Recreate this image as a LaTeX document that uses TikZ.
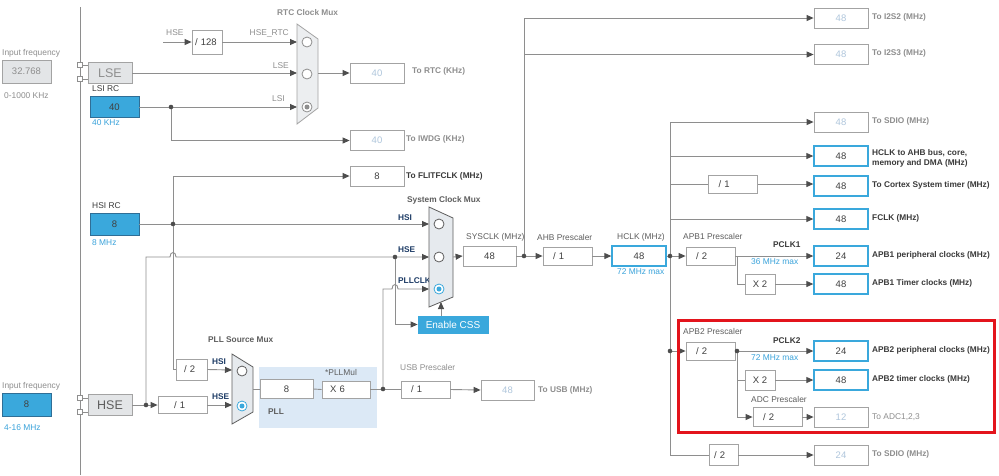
\documentclass[tikz,border=0pt]{standalone}
\usepackage{fontspec}
\setmainfont{Liberation Sans}
\usetikzlibrary{arrows.meta}

\definecolor{wiregray}{HTML}{8E8E8E}
\definecolor{tipgray}{HTML}{4D4D4D}
\definecolor{boxgray}{HTML}{A3A3A3}
\definecolor{oscgray}{HTML}{E3E5E7}
\definecolor{cubeblue}{HTML}{3AA8DC}
\definecolor{srcedge}{HTML}{2F6E96}
\definecolor{hinttext}{HTML}{3AA3DB}
\definecolor{lbltext}{HTML}{5E5E5E}
\definecolor{dimlbl}{HTML}{8E8E8E}
\definecolor{darktext}{HTML}{3A3A3A}
\definecolor{valtext}{HTML}{404040}
\definecolor{dimval}{HTML}{AFC6DC}
\definecolor{navy}{HTML}{1E3C66}
\definecolor{muxfill}{HTML}{E6EAEE}
\definecolor{muxdim}{HTML}{ECEEF0}
\definecolor{pllblue}{HTML}{DCE9F6}
\definecolor{alertred}{HTML}{E3141C}

\tikzset{
  wire/.style={draw=wiregray, line width=0.9pt},
  feed/.style={wire, -{Triangle[length=7pt,width=6pt,color=tipgray]}},
  valbox/.style={draw=boxgray, fill=white, line width=0.8pt, inner sep=0pt,
    minimum width=54pt, minimum height=20pt, text=valtext,
    font=\fontsize{9.5}{10}\selectfont},
  livebox/.style={valbox, draw=cubeblue, line width=1.3pt},
  dimbox/.style={valbox, text=dimval},
  divbox/.style={valbox, minimum width=10pt, minimum height=18pt,
    text width=#1, align=left, inner xsep=10pt},
  divbox/.default=29pt,
  srcbox/.style={valbox, fill=cubeblue, draw=srcedge, minimum width=49pt, minimum height=22pt},
  oscbox/.style={valbox, fill=oscgray, minimum width=44pt, minimum height=21pt,
    font=\fontsize{12.5}{12.5}\selectfont},
  pin/.style={draw=wiregray, fill=white, line width=0.8pt, minimum size=5pt, inner sep=0pt},
  lbl/.style={anchor=west, inner sep=0pt, text=lbltext, font=\fontsize{8.4}{9}\selectfont},
  blbl/.style={lbl, font=\fontsize{8.3}{10.5}\selectfont\bfseries},
  hint/.style={lbl, text=hinttext},
  muxin/.style={anchor=south west, inner sep=0pt, text=navy, font=\fontsize{8.3}{9}\selectfont\bfseries},
  rtcin/.style={anchor=south east, inner sep=0pt, text=dimlbl, font=\fontsize{8.4}{9}\selectfont},
  ring/.style={draw=#1, fill=white, line width=0.8pt},
}

\begin{document}
\begin{tikzpicture}[x=1pt,y=-1pt]
    \useasboundingbox (0,0) rectangle (999,475);
    \fill[white] (0,0) rectangle (999,475);
    % Define points
    \coordinate (hsertc) at (163,42);
    \coordinate (rtca) at (297,42);
    \coordinate (rtcb) at (297,73);
    \coordinate (rtcc) at (297,107);
    \coordinate (rtcmux) at (318,73);
    \coordinate (lsitap) at (171,107);
    \coordinate (hsitap) at (173,224);
    \coordinate (hsetap) at (146,405);
    \coordinate (csstap) at (395,257);
    \coordinate (plltap) at (383,389);
    \coordinate (smxa) at (429,224);
    \coordinate (smxb) at (429,257);
    \coordinate (smxc) at (429,289);
    \coordinate (smxout) at (453,257);
    \coordinate (smxsel) at (441,302);
    \coordinate (pmxa) at (232,370);
    \coordinate (pmxb) at (232,405);
    \coordinate (pmxout) at (253,389);
    \coordinate (systap) at (524,256);
    \coordinate (hcktap) at (670,256);
    \coordinate (bustop) at (670,122);
    \coordinate (busbot) at (670,455);
    \coordinate (apb1tap) at (737,256);
    \coordinate (apb2tap) at (737,351);

    % Draw background
    \fill[pllblue] (259,367) rectangle (377,428);
    \draw[wire] (80,7) -- (80,475);

    % Sources
    \node[lbl, text=dimlbl] (lsetitle) at (2,53) {Input frequency};
    \node[valbox, fill=oscgray, text=dimlbl, minimum width=49pt, minimum height=23pt] (lsefreq) at (26.5,71.5) {32.768};
    \node[lbl, text=dimlbl] (lserange) at (4,96) {0-1000 KHz};
    \node[pin] (lsepa) at (80,65) {};
    \node[pin] (lsepb) at (80,79) {};
    \node[oscbox, text=dimlbl] (lse) at (110,73) {LSE};
    \draw[wire] (lsepa) -- (lsepa -| lse.west);
    \draw[wire] (lsepb) -- (lsepb -| lse.west);
    \node[lbl, text=darktext] (lsiname) at (92,89) {LSI RC};
    \node[srcbox, minimum height=21pt] (lsi) at (114.5,107) {40};
    \node[hint] (lsifreq) at (92,123) {40 KHz};
    \node[lbl, text=darktext] (hsiname) at (92,206) {HSI RC};
    \node[srcbox] (hsi) at (114.5,224) {8};
    \node[hint] (hsifreq) at (92,243) {8 MHz};
    \node[lbl, text=dimlbl] (hsetitle) at (2,386) {Input frequency};
    \node[srcbox, minimum height=23pt] (hsefreq) at (26.5,404.5) {8};
    \node[hint] (hserange) at (4,428) {4-16 MHz};
    \node[pin] (hsepa) at (80,398) {};
    \node[pin] (hsepb) at (80,412) {};
    \node[oscbox, text=lbltext] (hse) at (110,405) {HSE};
    \draw[wire] (hsepa) -- (hsepa -| hse.west);
    \draw[wire] (hsepb) -- (hsepb -| hse.west);

    % RTC clock mux
    \node[lbl, text=dimlbl] (hsertcname) at (166,33) {HSE};
    \node[divbox=24pt, inner xsep=3pt, minimum height=24pt] (rtcdiv) at (207,42) {/ 128};
    \draw[feed] (hsertc) -- (rtcdiv.west);
    \draw[feed] (rtcdiv.east) -- (rtca);
    \draw[feed] (lse.east) -- (rtcb);
    \draw[feed] (lsi.east) -- (rtcc);
    \node[rtcin] (rtcaname) at (289,37) {HSE\_RTC};
    \node[rtcin] (rtcbname) at (289,69) {LSE};
    \node[rtcin] (rtccname) at (285,102) {LSI};
    \draw[draw=boxgray, fill=muxdim, line width=0.8pt] (297,24) -- (318,39) -- (318,108) -- (297,124) -- cycle;
    \foreach \y in {42,74,107}
        \draw[ring=dimlbl] (307,\y) circle[radius=5];
    \fill[dimlbl] (307,107) circle[radius=2.5];
    \node[lbl, text=dimlbl, font=\fontsize{8.3}{9}\selectfont\bfseries] (rtcname) at (277,13) {RTC Clock Mux};
    \node[dimbox] (rtc) at (377,73) {40};
    \node[blbl, text=dimlbl] (rtcto) at (412,71) {To RTC (KHz)};
    \draw[feed] (rtcmux) -- (rtc.west);
    \node[dimbox] (iwdg) at (377,140.5) {40};
    \node[blbl, text=dimlbl] (iwdgto) at (406,139) {To IWDG (KHz)};
    \draw[feed] (lsitap) |- (iwdg.west);
    \node[valbox] (flit) at (377,176) {8};
    \node[blbl, text=darktext] (flitto) at (406,176) {To FLITFCLK (MHz)};
    \draw[feed] (hsitap) |- (flit.west);

    % PLL
    \node[divbox=15pt, inner xsep=8pt, minimum height=21pt] (hsidiv) at (191.5,369.5) {/ 2};
    \node[divbox=17pt, inner xsep=16pt, minimum height=17pt] (hsediv) at (182.5,405) {/ 1};
    \draw[wire] (hsitap) |- (hsidiv.west);
    \draw[wire] (hse.east) -- (hsetap);
    \draw[feed] (hsetap) -- (hsediv.west);
    \draw[feed] (hsidiv.east) -- (pmxa);
    \draw[feed] (hsediv.east) -- (pmxb);
    \node[muxin] (pmxaname) at (212,365) {HSI};
    \node[muxin] (pmxbname) at (212,400) {HSE};
    \draw[draw=lbltext, fill=muxfill, line width=0.8pt] (232,354) -- (253,367) -- (253,412) -- (232,424) -- cycle;
    \draw[ring=lbltext] (242,371) circle[radius=5];
    \draw[ring=cubeblue] (242,406) circle[radius=5];
    \fill[cubeblue] (242,406) circle[radius=2.5];
    \node[lbl, font=\fontsize{8.3}{9}\selectfont\bfseries] (pmxname) at (208,340) {PLL Source Mux};
    \node[valbox, minimum width=53pt, minimum height=19pt] (pll) at (286.5,389) {8};
    \node[divbox=32pt, inner xsep=8pt, minimum height=17pt] (pllmul) at (346,389.5) {X 6};
    \node[lbl] (pllmulname) at (325,372) {*PLLMul};
    \node[blbl, text=lbltext] (pllname) at (268,412) {PLL};
    \draw[wire] (pmxout) -- (pll.west);
    \draw[wire] (pll.east) -- (pllmul.west);
    \node[divbox, minimum height=17pt] (usbdiv) at (425.5,389.5) {/ 1};
    \node[lbl, text=dimlbl] (usbname) at (400,367) {USB Prescaler};
    \draw[wire] (pllmul.east) -- (usbdiv.west);
    \node[dimbox, minimum width=53pt] (usb) at (507.5,390) {48};
    \node[blbl, text=dimlbl] (usbto) at (538,390) {To USB (MHz)};
    \draw[feed] (usbdiv.east) -- (usb.west);

    % System clock mux
    \draw[feed] (hsi.east) -- (smxa);
    \draw[feed] (hsetap) -- (hsetap |- smxb) -- ([xshift=-3pt]hsitap |- smxb)
        .. controls ([xshift=-3pt,yshift=6pt]hsitap |- smxb) and ([xshift=3pt,yshift=6pt]hsitap |- smxb)
        .. ([xshift=3pt]hsitap |- smxb) -- (smxb);
    \draw[feed] (plltap) -- (plltap |- smxc) -- ([xshift=-3pt]csstap |- smxc)
        .. controls ([xshift=-3pt,yshift=6pt]csstap |- smxc) and ([xshift=3pt,yshift=6pt]csstap |- smxc)
        .. ([xshift=3pt]csstap |- smxc) -- (smxc);
    \node[muxin] (smxaname) at (398,221) {HSI};
    \node[muxin] (smxbname) at (398,253) {HSE};
    \node[muxin] (smxcname) at (398,284) {PLLCLK};
    \draw[draw=lbltext, fill=muxfill, line width=0.8pt] (429,207) -- (453,218) -- (453,297) -- (429,307) -- cycle;
    \draw[ring=lbltext] (439,224) circle[radius=5];
    \draw[ring=lbltext] (439,257) circle[radius=5];
    \draw[ring=cubeblue] (439,289) circle[radius=5];
    \fill[cubeblue] (439,289) circle[radius=2.5];
    \node[lbl, font=\fontsize{8.3}{9}\selectfont\bfseries] (smxname) at (407,200) {System Clock Mux};
    \node[valbox, fill=cubeblue, draw=cubeblue, text=white, minimum width=70pt, minimum height=17pt,
        font=\fontsize{10}{10}\selectfont] (css) at (453,324.5) {Enable CSS};
    \draw[feed] (csstap) |- (css.west);
    \draw[feed] (css.north -| smxsel) -- (smxsel);

    % AHB and I2S
    \node[valbox, minimum width=53pt] (sysclk) at (489.5,256) {48};
    \node[lbl] (sysclkname) at (466,237) {SYSCLK (MHz)};
    \draw[feed] (smxout) -- (sysclk.west);
    \node[divbox] (ahb) at (567.5,256) {/ 1};
    \node[lbl] (ahbname) at (537,237) {AHB Prescaler};
    \draw[feed] (sysclk.east) -- (ahb.west);
    \node[livebox] (hclk) at (639,256) {48};
    \node[lbl] (hclkname) at (617,237) {HCLK (MHz)};
    \node[hint] (hclkmax) at (617,272) {72 MHz max};
    \draw[feed] (ahb.east) -- (hclk.west);
    \foreach \n/\y/\v/\t in {i2s2/18/48/To I2S2 (MHz), i2s3/54.5/48/To I2S3 (MHz),
            sdioa/122/48/To SDIO (MHz), sdiob/455/24/To SDIO (MHz)} {
        \node[dimbox] (\n) at (841,\y) {\v};
        \node[blbl, text=dimlbl] (\n-to) at (872,\y-1) {\t};
    }
    \draw[feed] (systap) |- (i2s2.west);
    \draw[feed] (systap |- i2s3.west) -- (i2s3.west);

    % HCLK bus
    \foreach \n/\y/\v/\t in {cortex/186/48/To Cortex System timer (MHz), fclk/219/48/FCLK (MHz),
            apb1per/256/24/APB1 peripheral clocks (MHz), apb1tim/284/48/APB1 Timer clocks (MHz),
            apb2per/351/24/APB2 peripheral clocks (MHz), apb2tim/380/48/APB2 timer clocks (MHz)} {
        \node[livebox] (\n) at (841,\y) {\v};
        \node[blbl, text=darktext] (\n-to) at (872,\y-1) {\t};
    }
    \node[livebox] (ahbout) at (841,156) {48};
    \node[blbl, text=darktext, align=left] (ahbout-to) at (872,158.5) {HCLK to AHB bus, core,\\memory and DMA (MHz)};
    \draw[wire] (bustop) -- (busbot);
    \draw[feed] (bustop) -- (sdioa.west);
    \draw[feed] (bustop |- ahbout.west) -- (ahbout.west);
    \node[divbox] (cortexdiv) at (733,184) {/ 1};
    \draw[wire] (bustop |- cortexdiv.west) -- (cortexdiv.west);
    \draw[feed] (cortexdiv.east) -- (cortex.west |- cortexdiv.east);
    \draw[feed] (bustop |- fclk.west) -- (fclk.west);
    \node[divbox=19pt, inner xsep=5pt, minimum height=21pt] (sdiodiv) at (723.5,455) {/ 2};
    \draw[wire] (busbot) -- (sdiodiv.west);
    \draw[feed] (sdiodiv.east) -- (sdiob.west);

    % APB1
    \node[divbox] (apb1) at (710.5,256) {/ 2};
    \node[lbl] (apb1name) at (683,236) {APB1 Prescaler};
    \draw[feed] (hclk.east) -- (apb1.west);
    \draw[feed] (apb1.east) -- (apb1per.west);
    \node[blbl, text=darktext] (pclk1) at (773,245) {PCLK1};
    \node[hint] (pclk1max) at (751,262) {36 MHz max};
    \node[valbox, minimum width=30pt] (apb1x2) at (760,284) {X 2};
    \draw[wire] (apb1tap) |- (apb1x2.west);
    \draw[feed] (apb1x2.east) -- (apb1tim.west);

    % APB2
    \node[divbox] (apb2) at (710.5,351) {/ 2};
    \node[lbl] (apb2name) at (683,331) {APB2 Prescaler};
    \draw[feed] (bustop |- apb2.west) -- (apb2.west);
    \draw[feed] (apb2.east) -- (apb2per.west);
    \node[blbl, text=darktext] (pclk2) at (773,341) {PCLK2};
    \node[hint] (pclk2max) at (751,358) {72 MHz max};
    \node[valbox, minimum width=30pt] (apb2x2) at (760,380) {X 2};
    \draw[wire] (apb2tap |- apb2x2.west) -- (apb2x2.west);
    \draw[feed] (apb2x2.east) -- (apb2tim.west);
    \node[divbox, minimum height=19pt] (adcdiv) at (777.5,417) {/ 2};
    \node[lbl] (adcname) at (751,399) {ADC Prescaler};
    \draw[feed] (apb2tap) |- (adcdiv.west);
    \node[dimbox] (adc) at (841,417) {12};
    \node[lbl, text=dimlbl] (adc-to) at (872,417) {To ADC1,2,3};
    \draw[feed] (adcdiv.east) -- (adc.west);
    \draw[draw=alertred, line width=3pt] (678,320) rectangle (994,432);

    % Draw junction dots
    \foreach \p in {lsitap,hsitap,hsetap,csstap,plltap,systap,hcktap,apb2tap}
        \fill[tipgray] (\p) circle[radius=2.3];
    \fill[tipgray] (bustop |- apb2.west) circle[radius=2.3];
\end{tikzpicture}
\end{document}
